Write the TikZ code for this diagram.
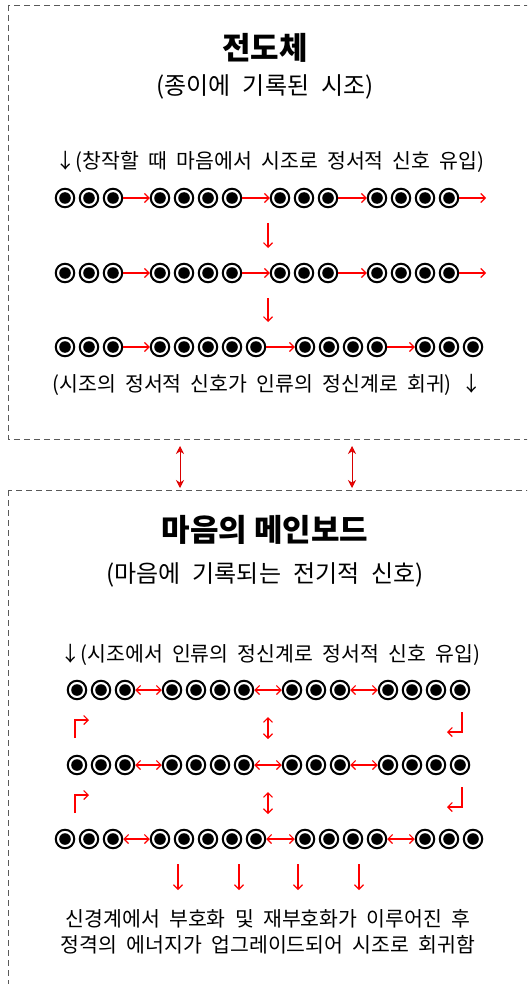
\documentclass[tikz,border=0pt]{standalone}
\usepackage{fontspec}
\setmainfont{Noto Sans CJK KR}
\usetikzlibrary{arrows.meta}
\newcommand\beadrow[3]{\foreach \x [count=\i] in {#3} {\node[bead] (#1\i) at (\x,#2) {};}}
\newcommand\widesp[1]{\spaceskip=#1em\relax}
\begin{document}
\begin{tikzpicture}[x=1pt,y=-1pt,
  bead/.style={circle,draw=black,line width=2pt,minimum size=18.5pt,inner sep=0pt,
    path picture={\fill[black] (path picture bounding box.center) circle (5.8pt);}},
  rarr/.style={draw=red,line width=1.1pt,-{Straight Barb[length=4.5pt,width=9pt]}},
  rdarr/.style={draw=red,line width=1.1pt,{Straight Barb[length=4.5pt,width=9pt]}-{Straight Barb[length=4.5pt,width=9pt]}},
  linkarr/.style={draw=red!85!black,line width=0.8pt,{Stealth[length=8pt,width=8pt,fill=red]}-{Stealth[length=8pt,width=8pt,fill=red]}},
  box/.style={draw=black!65,line width=0.9pt,dash pattern=on 6pt off 4pt},
  ttltxt/.style={font=\bfseries\fontsize{31}{34}\selectfont},
  subtxt/.style={font=\fontsize{24}{28}\selectfont,execute at begin node={\widesp{0.5}}},
  captxt/.style={font=\fontsize{20.5}{26}\selectfont,align=center,execute at begin node={\widesp{0.45}}}]
\useasboundingbox (0,0) rectangle (527,984);
\clip (0,0) rectangle (527,984);
% boxes
\draw[box] (8,5) rectangle (560,439);
\draw[box] (8,490) rectangle (560,1020);
% top box texts
\node[ttltxt] (t1) at (265,48) {전도체};
\node[subtxt] (s1) at (265,87) {(종이에 기록된 시조)};
\node[captxt] (c1) at (270,162) {↓(창작할 때 마음에서 시조로 정서적 신호 유입)};
\node[captxt] (c3) at (267,385) {(시조의 정서적 신호가 인류의 정신계로 회귀) ↓};
% top rows
\beadrow{a}{198}{65,89,113,160,184,208,232,280,304,328,377,401,425,449}
\beadrow{b}{273}{65,89,113,160,184,208,232,280,304,328,377,401,425,449}
\beadrow{c}{347}{65,89,113,160,184,208,232,256,305,329,353,377,425,449,473}
\coordinate (aend) at (486,198);
\coordinate (bend) at (486,273);
\draw[rarr] (a3) -- (a4);
\draw[rarr] (a7) -- (a8);
\draw[rarr] (a10) -- (a11);
\draw[rarr] (a14) -- (aend);
\draw[rarr] (b3) -- (b4);
\draw[rarr] (b7) -- (b8);
\draw[rarr] (b10) -- (b11);
\draw[rarr] (b14) -- (bend);
\draw[rarr] (c3) -- (c4);
\draw[rarr] (c8) -- (c9);
\draw[rarr] (c12) -- (c13);
\coordinate (v1s) at (268,223);
\coordinate (v1e) at (268,248);
\coordinate (v2s) at (268,298);
\coordinate (v2e) at (268,322);
\draw[rarr] (v1s) -- (v1e);
\draw[rarr] (v2s) -- (v2e);
% links between boxes
\coordinate (l1s) at (180,446);
\coordinate (l1e) at (180,488);
\coordinate (l2s) at (352,446);
\coordinate (l2e) at (352,488);
\draw[linkarr] (l1s) -- (l1e);
\draw[linkarr] (l2s) -- (l2e);
% bottom box texts
\node[ttltxt] (t2) at (265,530) {마음의 메인보드};
\node[subtxt] (s2) at (265,575) {(마음에 기록되는 전기적 신호)};
\node[captxt] (cb) at (270,655) {↓(시조에서 인류의 정신계로 정서적 신호 유입)};
\node[captxt] (fin) at (268,932) {신경계에서 부호화 및 재부호화가 이루어진 후\\정격의 에너지가 업그레이드되어 시조로 회귀함};
% bottom rows
\beadrow{p}{690}{77,101,125,172,196,220,244,292,316,340,388,412,436,460}
\beadrow{q}{765}{77,101,125,172,196,220,244,292,316,340,388,412,436,460}
\beadrow{s}{839}{65,89,113,160,184,208,232,256,305,329,353,377,425,449,473}
\draw[rdarr] (p3) -- (p4);
\draw[rdarr] (p7) -- (p8);
\draw[rdarr] (p10) -- (p11);
\draw[rdarr] (q3) -- (q4);
\draw[rdarr] (q7) -- (q8);
\draw[rdarr] (q10) -- (q11);
\draw[rdarr] (s3) -- (s4);
\draw[rdarr] (s8) -- (s9);
\draw[rdarr] (s12) -- (s13);
% bent arrows
\coordinate (bl1s) at (75,738);
\coordinate (bl1e) at (89,720);
\coordinate (br1s) at (462,712);
\coordinate (br1e) at (447,732);
\coordinate (bl2s) at (75,813);
\coordinate (bl2e) at (89,795);
\coordinate (br2s) at (462,787);
\coordinate (br2e) at (447,807);
\draw[rarr] (bl1s) |- (bl1e);
\draw[rarr] (br1s) |- (br1e);
\draw[rarr] (bl2s) |- (bl2e);
\draw[rarr] (br2s) |- (br2e);
\coordinate (m1s) at (268,717);
\coordinate (m1e) at (268,739);
\coordinate (m2s) at (268,792);
\coordinate (m2e) at (268,814);
\draw[rdarr] (m1s) -- (m1e);
\draw[rdarr] (m2s) -- (m2e);
% down arrows
\foreach \x [count=\k] in {178,239,298,359} {
  \coordinate (d\k s) at (\x,864);
  \coordinate (d\k e) at (\x,890);
  \draw[rarr] (d\k s) -- (d\k e);
}
\end{tikzpicture}
\end{document}
